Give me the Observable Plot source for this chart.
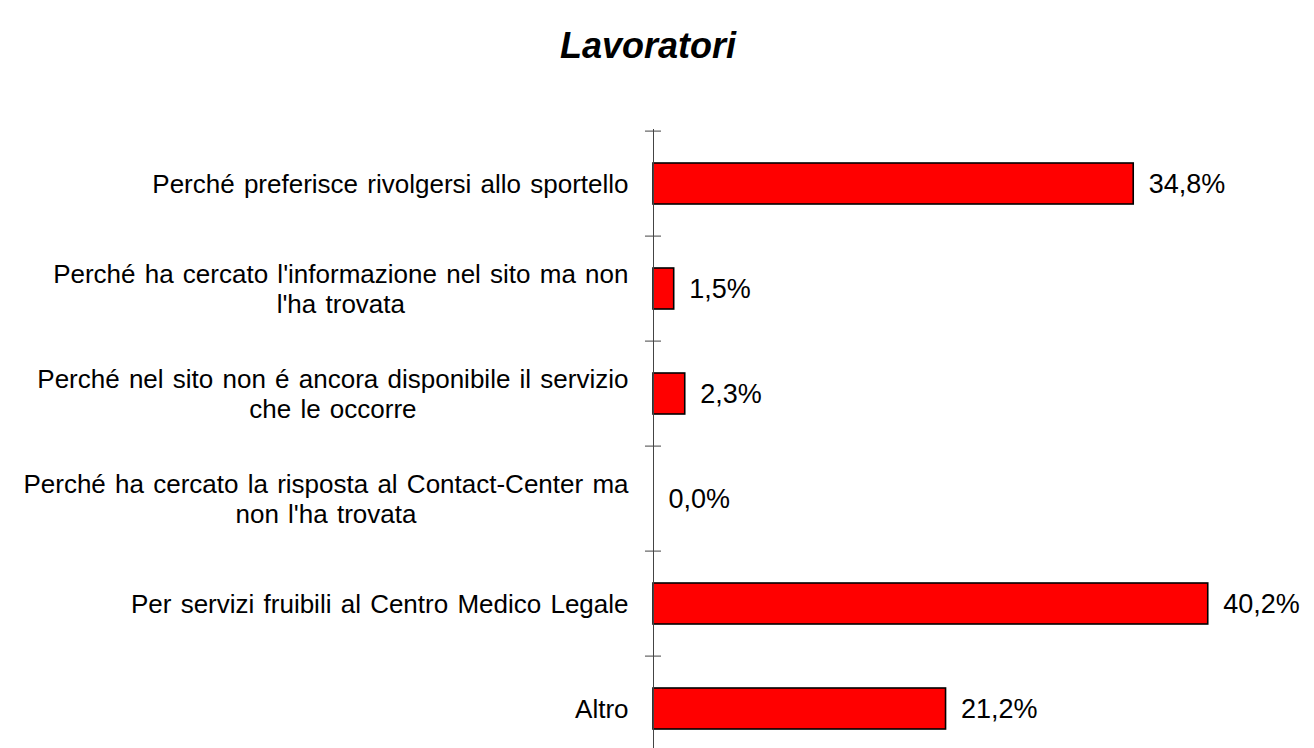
<!DOCTYPE html>
<html>
<head>
<meta charset="utf-8">
<script src="https://cdn.jsdelivr.net/npm/d3@7"></script>
<script src="https://cdn.jsdelivr.net/npm/@observablehq/plot@0.6"></script>
<style>
  html, body { margin: 0; padding: 0; background: #fff; }
  body { width: 1314px; height: 748px; overflow: hidden; font-family: "Liberation Sans", Arial, sans-serif; }
  #title { height: 110px; box-sizing: border-box; padding-top: 28px; padding-right: 18px; text-align: center;
           font: italic bold 36px/36px "Liberation Sans", Arial, sans-serif; color: #000; }
  svg { display: block; }
  #chart svg g[aria-label="text"] { word-spacing: 2px; }
</style>
</head>
<body>
<div id="title">Lavoratori</div>
<div id="chart"></div>
<script>
const categories = [
  "Perché preferisce rivolgersi allo sportello",
  "Perché ha cercato l'informazione nel sito ma non\nl'ha trovata",
  "Perché nel sito non é ancora disponibile il servizio\nche le occorre",
  "Perché ha cercato la risposta al Contact-Center ma\nnon l'ha trovata",
  "Per servizi fruibili al Centro Medico Legale",
  "Altro"
];
const values = [34.8, 1.5, 2.3, 0.0, 40.2, 21.2];

const data = categories.map((c, i) => ({cat: c, value: values[i]}));
const fmt = v => v.toFixed(1).replace(".", ",") + "%";

const labelSize = 26;
const wordSpacing = 2;
const ctx = document.createElement("canvas").getContext("2d");
ctx.font = `${labelSize}px "Liberation Sans", Arial, sans-serif`;
const lineWidth = l => ctx.measureText(l).width + wordSpacing * (l.split(" ").length - 1);
const blockWidth = s => Math.max(...s.split("\n").map(lineWidth));

const step = 105.8;
const labelMarks = data.map(d => Plot.text([d], {
  x: () => 0, y: "cat", text: "cat",
  textAnchor: "middle", lineAnchor: "middle",
  dx: -25 - blockWidth(d.cat) / 2, dy: -1,
  fontSize: labelSize, lineHeight: 1.15, fill: "#000"
}));

const chart = Plot.plot({
  width: 1314,
  height: 638,
  marginTop: 19,
  marginBottom: 0,
  marginLeft: 653,
  marginRight: 0,
  style: {fontFamily: '"Liberation Sans", Arial, sans-serif', background: "#fff"},
  x: {domain: [0, 47.9], range: [653, 1314], axis: null},
  y: {domain: categories, range: [19, 19 + 6 * step], paddingInner: 0.61, paddingOuter: 0.305, axis: null},
  marks: [
    Plot.barX(data, {x: "value", y: "cat", fill: "#ff0000", stroke: "#000", strokeWidth: 1.6}),
    Plot.ruleX([0], {stroke: "#444", strokeWidth: 1}),
    Plot.ruleY(data, {y: "cat", x1: () => -0.58, x2: () => 0.58, dy: -step / 2, stroke: "#444", strokeWidth: 1}),
    ...labelMarks,
    Plot.text(data, {x: "value", y: "cat", text: d => fmt(d.value), textAnchor: "start", dx: 15, fontSize: 27, fill: "#000"})
  ]
});
document.getElementById("chart").appendChild(chart);
</script>
</body>
</html>
